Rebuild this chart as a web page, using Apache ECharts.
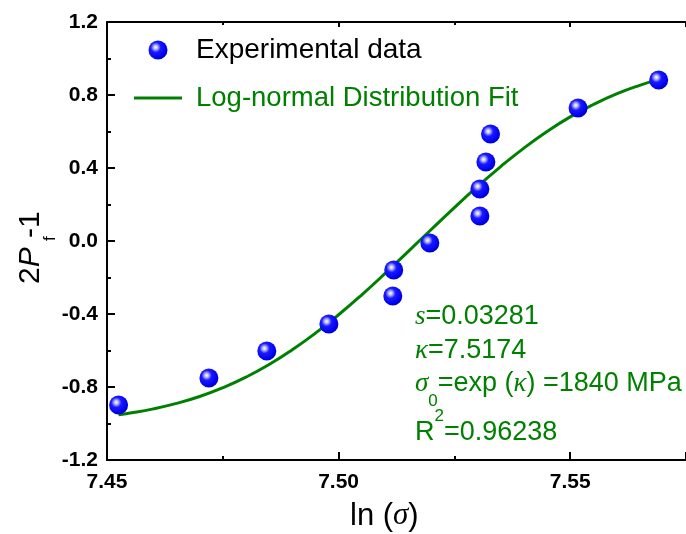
<!DOCTYPE html>
<html>
<head>
<meta charset="utf-8">
<script src="https://cdn.jsdelivr.net/npm/echarts@6/dist/echarts.min.js"></script>
<style>
  html, body { margin: 0; padding: 0; background: #fff; }
  #chart { width: 686px; height: 534px; }
</style>
</head>
<body>
<div id="chart"></div>
<script>
// experimental points: ln(sigma) vs 2Pf-1
const lnSigma = [7.4525, 7.4720, 7.4845, 7.4979, 7.5117, 7.5119, 7.5197, 7.5305, 7.5305, 7.5318, 7.5328, 7.5517, 7.5691];
const pf = [-0.899, -0.751, -0.603, -0.455, -0.301, -0.159, -0.011, 0.137, 0.285, 0.433, 0.586, 0.729, 0.882];

// log-normal fit line
const fitX = [7.4525, 7.455, 7.46, 7.465, 7.47, 7.475, 7.48, 7.485, 7.49, 7.495, 7.50, 7.505, 7.51,
  7.515, 7.52, 7.525, 7.53, 7.535, 7.54, 7.545, 7.55, 7.555, 7.56, 7.565, 7.569];
const fitY = [-0.952, -0.943, -0.920, -0.890, -0.852, -0.804, -0.746, -0.677, -0.596, -0.505, -0.404, -0.295, -0.179,
  -0.058, 0.063, 0.183, 0.299, 0.408, 0.509, 0.600, 0.680, 0.748, 0.806, 0.853, 0.884];

// axis ticks
const xTicks = [7.45, 7.50, 7.55];
const yTicks = [-1.2, -0.8, -0.4, 0.0, 0.4, 0.8, 1.2];

const FONT = "'Liberation Sans', Arial, 'Noto Sans CJK SC', sans-serif";
const SERIF = "'Liberation Serif', 'Times New Roman', serif";
const GREEN = '#008000';

const chart = echarts.init(document.getElementById('chart'));

//球形的点
const sphere = {
  type: 'radial', x: 0.38, y: 0.36, r: 0.66,
  colorStops: [
    { offset: 0, color: '#ffffff' },
    { offset: 0.15, color: '#c0c0ff' },
    { offset: 0.4, color: '#1a1aff' },
    { offset: 0.85, color: '#0000f0' },
    { offset: 1, color: '#0000c0' }
  ]
};

const axisCommon = {
  type: 'value',
  axisLine: { onZero: false, lineStyle: { color: '#000', width: 2 } },
  axisTick: { inside: true, length: 8, lineStyle: { color: '#000', width: 2 } },
  minorTick: { show: true, splitNumber: 2, length: 4, lineStyle: { color: '#000', width: 2 } },
  splitLine: { show: false },
  minorSplitLine: { show: false }
};

const labelStyle = { color: '#000', fontSize: 21, fontWeight: 'bold', fontFamily: FONT };

const nStyle = (lh) => ({ fontSize: 27, fontFamily: FONT, fill: GREEN, lineHeight: lh });
const gStyle = (lh) => ({ fontSize: 27, fontFamily: SERIF, fontStyle: 'italic', fill: GREEN, lineHeight: lh });

function note(y, text, lh) {
  return {
    type: 'text', x: 415, y: y,
    style: {
      text: text, align: 'left', verticalAlign: 'middle', fill: GREEN,
      rich: {
        n: nStyle(lh),
        g: gStyle(lh),
        sub: { fontSize: 17, fontFamily: FONT, fill: GREEN, lineHeight: 17, verticalAlign: 'bottom' },
        sup: { fontSize: 17, fontFamily: FONT, fill: GREEN, lineHeight: 17, verticalAlign: 'top' }
      }
    }
  };
}

const titleFont = { fontSize: 30, fontFamily: FONT, fill: '#000', verticalAlign: 'middle', align: 'left' };

const option = {
  animation: false,
  backgroundColor: '#fff',
  grid: { left: 107, top: 22, width: 590, height: 438 },
  xAxis: [
    Object.assign({}, axisCommon, {
      min: xTicks[0], max: 7.575, interval: xTicks[1] - xTicks[0],
      axisLabel: Object.assign({}, labelStyle, {
        margin: 12, showMaxLabel: false,
        formatter: v => v.toFixed(2)
      })
    }),
    Object.assign({}, axisCommon, {
      position: 'top',
      min: xTicks[0], max: 7.575, interval: xTicks[1] - xTicks[0],
      axisTick: { inside: true, length: 5, lineStyle: { color: '#000', width: 2 } },
      minorTick: { show: true, splitNumber: 2, length: 3, lineStyle: { color: '#000', width: 2 } },
      axisLabel: { show: false }
    })
  ],
  yAxis: Object.assign({}, axisCommon, {
    min: yTicks[0], max: yTicks[yTicks.length - 1], interval: yTicks[1] - yTicks[0],
    axisLabel: Object.assign({}, labelStyle, {
      margin: 9,
      formatter: v => (Math.abs(v) < 1e-9 ? 0 : v).toFixed(1)
    })
  }),
  legend: {
    orient: 'vertical', left: 129, top: 30,
    itemWidth: 48, itemHeight: 19, itemGap: 18,
    textStyle: { fontSize: 27.5, fontFamily: FONT, lineHeight: 30, padding: [0, 0, 0, 9] },
    data: [
      { name: 'Experimental data', textStyle: { color: '#000', fontSize: 28 } },
      { name: 'Log-normal Distribution Fit', icon: 'path://M0,0L48,0L48,3L0,3Z', textStyle: { color: GREEN } }
    ]
  },
  series: [
    {
      name: 'Log-normal Distribution Fit',
      type: 'line',
      data: fitX.map((x, i) => [x, fitY[i]]),
      smooth: true,
      symbol: 'none',
      lineStyle: { color: GREEN, width: 3 },
      itemStyle: { color: GREEN },
      z: 2
    },
    {
      name: 'Experimental data',
      type: 'scatter',
      data: lnSigma.map((x, i) => [x, pf[i]]),
      symbol: 'circle',
      symbolSize: 19,
      itemStyle: { color: sphere, opacity: 1 },
      z: 3
    }
  ],
  graphic: [
    {
      type: 'group', x: 31, y: 284, rotation: Math.PI / 2,
      children: [
        { type: 'text', x: 0, y: 0, style: Object.assign({ text: '2' }, titleFont) },
        { type: 'text', x: 16.7, y: 0, style: Object.assign({ text: 'P', fontStyle: 'italic' }, titleFont) },
        { type: 'text', x: 43, y: 19, style: Object.assign({}, titleFont, { text: 'f', fontSize: 17 }) },
        { type: 'text', x: 46, y: 0, style: Object.assign({ text: '-1' }, titleFont) }
      ]
    },
    {
      type: 'text', x: 350, y: 516,
      style: {
        text: '{n|ln (}{g|σ}{n|)}', align: 'left', verticalAlign: 'middle',
        rich: {
          n: { fontSize: 31, fontFamily: FONT, fill: '#000' },
          g: { fontSize: 31, fontFamily: SERIF, fontStyle: 'italic', fill: '#000' }
        }
      }
    },
    note(317, '{g|s}{n|=0.03281}', 30),
    note(351, '{g|κ}{n|=7.5174}', 30),
    note(384, '{g|σ}{sub|0}{n|=exp (}{g|κ}{n|) =1840 MPa}', 52),
    note(433, '{n|R}{sup|2}{n|=0.96238}', 50)
  ]
};

chart.setOption(option);
</script>
</body>
</html>
